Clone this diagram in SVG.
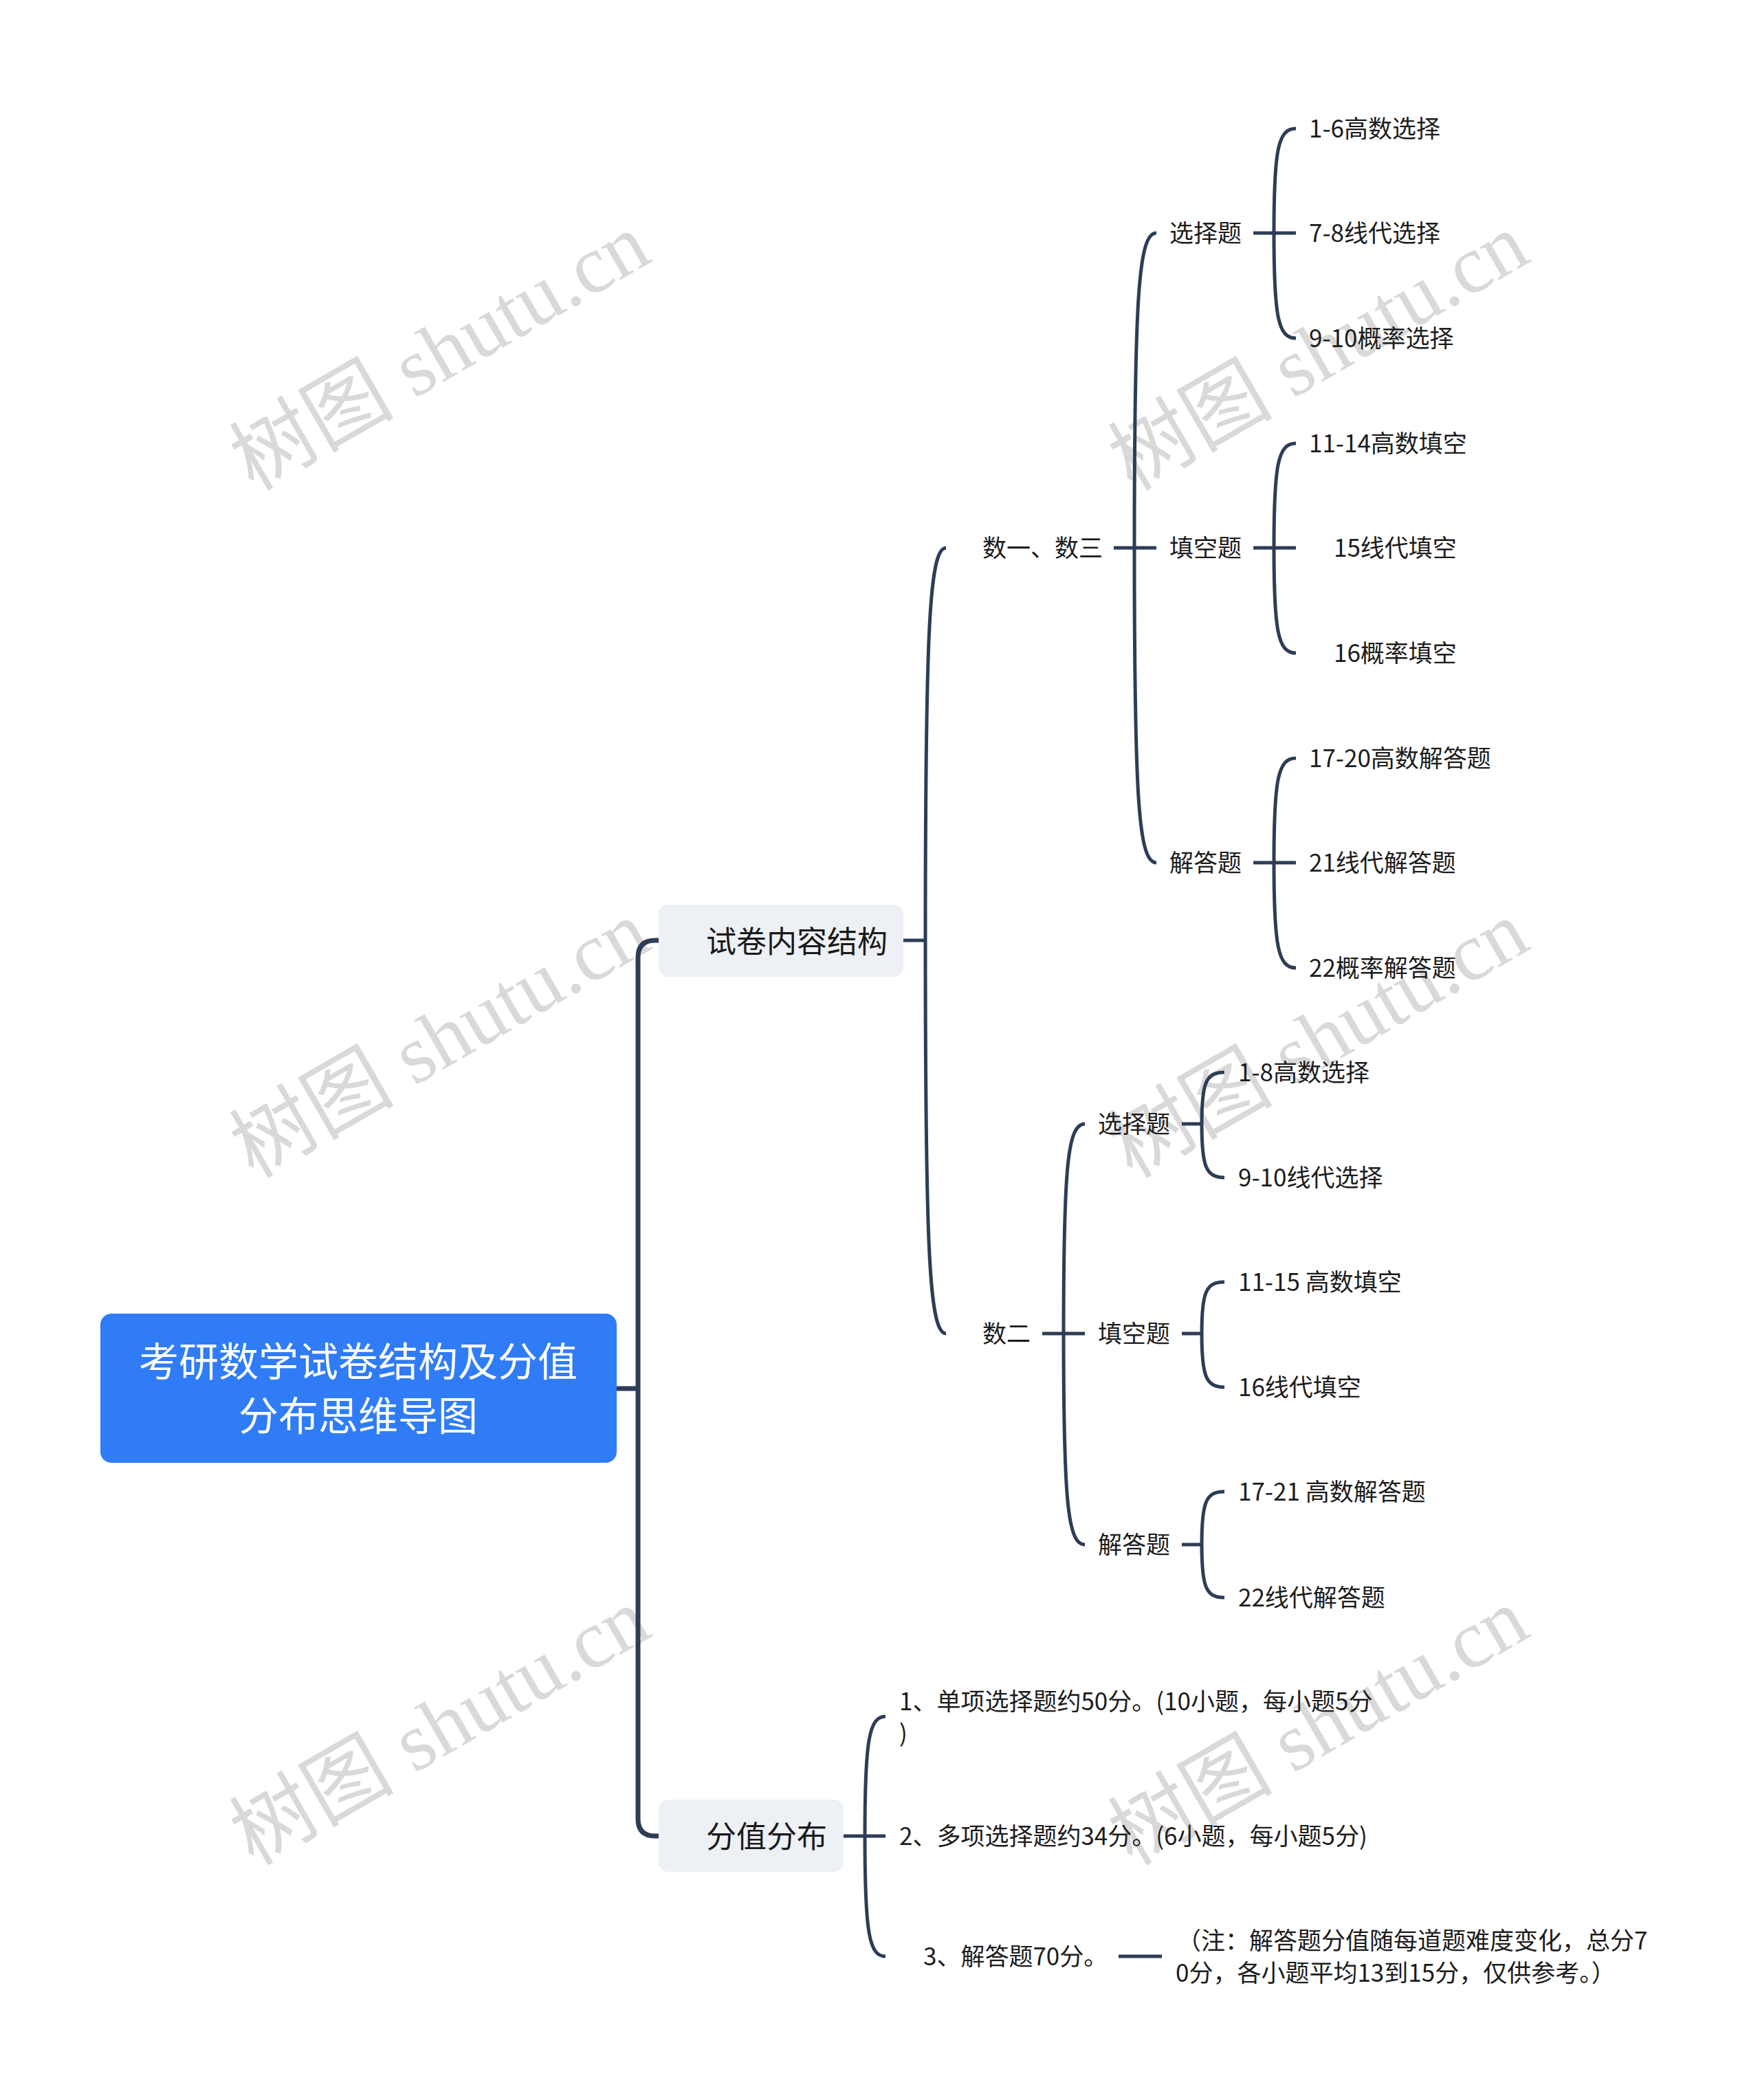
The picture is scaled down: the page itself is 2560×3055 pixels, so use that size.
<svg xmlns="http://www.w3.org/2000/svg" width="2560" height="3055" viewBox="0 0 2560 3055">
<defs>
<style>
.wm{font-family:"Liberation Serif","Noto Sans CJK SC",serif;font-size:120px;fill:#d9d9d9;text-anchor:middle}
.t{font-family:"Noto Sans CJK SC","Noto Sans",sans-serif;font-size:35px;fill:#1c1c1c}
.l1{font-family:"Noto Sans CJK SC","Noto Sans",sans-serif;font-size:44px;fill:#1a1a1a}
.root{font-family:"Noto Sans CJK SC","Noto Sans",sans-serif;font-size:58px;fill:#ffffff;text-anchor:middle}
.c{fill:none;stroke:#2d3d55;stroke-width:5;stroke-linecap:butt}
.cm{fill:none;stroke:#2d3d55;stroke-width:7}
.box{fill:#edf0f4}
</style>
</defs>
<rect width="2560" height="3055" fill="#ffffff"/>
<g id="watermarks">
<text class="wm" x="660" y="547" transform="rotate(-30 660 547)">树图 shutu.cn</text>
<text class="wm" x="1938" y="547" transform="rotate(-30 1938 547)">树图 shutu.cn</text>
<text class="wm" x="660" y="1547" transform="rotate(-30 660 1547)">树图 shutu.cn</text>
<text class="wm" x="1938" y="1547" transform="rotate(-30 1938 1547)">树图 shutu.cn</text>
<text class="wm" x="660" y="2547" transform="rotate(-30 660 2547)">树图 shutu.cn</text>
<text class="wm" x="1938" y="2547" transform="rotate(-30 1938 2547)">树图 shutu.cn</text>
</g>
<g id="connectors">
<path class="cm" d="M897 2020 H928"/>
<path class="cm" d="M958 1368 H953 Q928 1368 928 1393 V2646 Q928 2671 953 2671 H958"/>
<path class="c" d="M1314 1368 H1346"/>
<path class="c" d="M1376 797 C1352 797 1346 911 1346 1368 C1346 1826 1352 1940 1376 1940"/>
<path class="c" d="M1620 797 H1682"/>
<path class="c" d="M1682 339 C1656 339 1650 430 1650 797 C1650 1164 1656 1255 1682 1255"/>
<path class="c" d="M1823 339 H1885"/>
<path class="c" d="M1885 187 C1859 187 1853 217 1853 339 C1853 461 1859 492 1885 492"/>
<path class="c" d="M1823 797 H1885"/>
<path class="c" d="M1885 645 C1859 645 1853 675 1853 797 C1853 919 1859 950 1885 950"/>
<path class="c" d="M1823 1255 H1885"/>
<path class="c" d="M1885 1103 C1859 1103 1853 1133 1853 1255 C1853 1377 1859 1408 1885 1408"/>
<path class="c" d="M1516 1940 H1578"/>
<path class="c" d="M1578 1635 C1553 1635 1547 1696 1547 1940 C1547 2184 1553 2247 1578 2247"/>
<path class="c" d="M1719 1635 H1748"/>
<path class="c" d="M1781 1560 C1754 1560 1748 1575 1748 1635 C1748 1697 1754 1713 1781 1713"/>
<path class="c" d="M1719 1940 H1748"/>
<path class="c" d="M1781 1865 C1754 1865 1748 1880 1748 1940 C1748 2002 1754 2018 1781 2018"/>
<path class="c" d="M1719 2247 H1748"/>
<path class="c" d="M1781 2170 C1754 2170 1748 2185 1748 2247 C1748 2309 1754 2324 1781 2324"/>
<path class="c" d="M1227 2671 H1288"/>
<path class="c" d="M1288 2497 C1264 2497 1258 2532 1258 2671 C1258 2811 1264 2846 1288 2846"/>
<path class="c" d="M1627 2846 H1690"/>
</g>
<g id="root">
<rect x="146" y="1911" width="751" height="217" rx="16" fill="#2f7cf6"/>
<text class="root" x="521" y="2002">考研数学试卷结构及分值</text>
<text class="root" x="521" y="2081">分布思维导图</text>
</g>
<g id="n-structure">
<rect class="box" x="958" y="1316" width="356" height="105" rx="14"/>
<text class="l1" x="1027" y="1386">试卷内容结构</text>
</g>
<g id="n-score">
<rect class="box" x="958" y="2618" width="269" height="105" rx="14"/>
<text class="l1" x="1027" y="2688">分值分布</text>
</g>
<g id="n-s13"><text class="t" x="1429" y="810">数一、数三</text></g>
<g id="n-s13-xz"><text class="t" x="1701" y="352">选择题</text></g>
<g id="n-s13-tk"><text class="t" x="1701" y="810">填空题</text></g>
<g id="n-s13-jd"><text class="t" x="1701" y="1268">解答题</text></g>
<g id="n-a1"><text class="t" x="1904" y="200">1-6高数选择</text></g>
<g id="n-a2"><text class="t" x="1904" y="352">7-8线代选择</text></g>
<g id="n-a3"><text class="t" x="1904" y="505">9-10概率选择</text></g>
<g id="n-a4"><text class="t" x="1904" y="658">11-14高数填空</text></g>
<g id="n-a5"><text class="t" x="1940" y="810">15线代填空</text></g>
<g id="n-a6"><text class="t" x="1940" y="963">16概率填空</text></g>
<g id="n-a7"><text class="t" x="1904" y="1116">17-20高数解答题</text></g>
<g id="n-a8"><text class="t" x="1904" y="1268">21线代解答题</text></g>
<g id="n-a9"><text class="t" x="1904" y="1421">22概率解答题</text></g>
<g id="n-s2"><text class="t" x="1429" y="1953">数二</text></g>
<g id="n-s2-xz"><text class="t" x="1597" y="1648">选择题</text></g>
<g id="n-s2-tk"><text class="t" x="1597" y="1953">填空题</text></g>
<g id="n-s2-jd"><text class="t" x="1597" y="2260">解答题</text></g>
<g id="n-b1"><text class="t" x="1801" y="1573">1-8高数选择</text></g>
<g id="n-b2"><text class="t" x="1801" y="1726">9-10线代选择</text></g>
<g id="n-b3"><text class="t" x="1801" y="1878">11-15 高数填空</text></g>
<g id="n-b4"><text class="t" x="1801" y="2031">16线代填空</text></g>
<g id="n-b5"><text class="t" x="1801" y="2183">17-21 高数解答题</text></g>
<g id="n-b6"><text class="t" x="1801" y="2337">22线代解答题</text></g>
<g id="n-p1"><text class="t" x="1308" y="2488">1、单项选择题约50分。(10小题，每小题5分</text><text class="t" x="1308" y="2534">)</text></g>
<g id="n-p2"><text class="t" x="1308" y="2684">2、多项选择题约34分。(6小题，每小题5分)</text></g>
<g id="n-p3"><text class="t" x="1343" y="2859">3、解答题70分。</text></g>
<g id="n-note"><text class="t" x="1712" y="2836">（注：解答题分值随每道题难度变化，总分7</text><text class="t" x="1710" y="2883">0分，各小题平均13到15分，仅供参考。）</text></g>
</svg>
